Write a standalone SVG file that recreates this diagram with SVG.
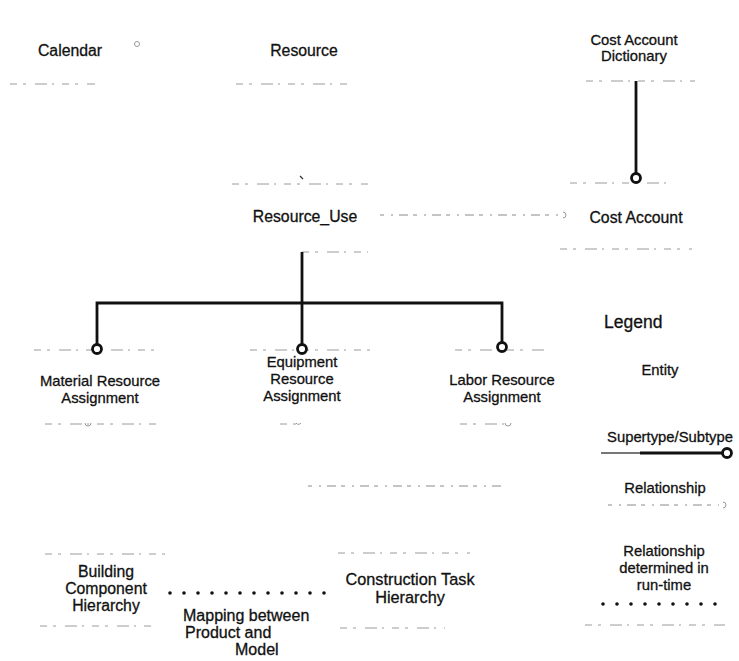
<svg xmlns="http://www.w3.org/2000/svg" width="739" height="661" viewBox="0 0 739 661">
  <style>
    .lbl { font-family: "Liberation Sans", Arial, Helvetica, sans-serif; font-size: 14.8px; fill: #111; stroke: #111; stroke-width: 0.3; text-anchor: middle; }
    .big { font-size: 15.8px; }
    .lbl-l { font-family: "Liberation Sans", Arial, Helvetica, sans-serif; font-size: 16px; fill: #111; stroke: #111; stroke-width: 0.3; }
    .title { font-family: "Liberation Sans", Arial, Helvetica, sans-serif; font-size: 17.5px; fill: #111; stroke: #111; stroke-width: 0.3; }
    .edge { stroke: #9a9a9a; stroke-width: 1; fill: none; stroke-dasharray: 7 6 3 9 12 5 2 8; }
    .rel { stroke: #8a8a8a; stroke-width: 1; fill: none; stroke-dasharray: 4 7 2 6 9 5; }
    .relEnd { stroke: #999; stroke-width: 1; fill: none; }
    .sub { stroke: #111; stroke-width: 2.8; fill: none; }
    .subEnd { stroke: #111; stroke-width: 2.8; fill: #fff; }
    .dots { stroke: #111; stroke-width: 3.6; fill: none; stroke-linecap: round; stroke-dasharray: 0 14; }
  </style>

  <rect width="739" height="661" fill="#fff"/>

  <!-- entities: faint box edges above and below each label -->
  <g id="calendar">
    <line class="edge" x1="10" y1="84" x2="95" y2="84"/>
    <text class="lbl big" x="70" y="56">Calendar</text>
  </g>

  <g id="resource">
    <line class="edge" x1="236" y1="84" x2="350" y2="84"/>
    <text class="lbl big" x="304" y="56">Resource</text>
  </g>

  <g id="cost-account-dictionary">
    <line class="edge" x1="586" y1="81" x2="695" y2="81"/>
    <text class="lbl" x="634" y="45">Cost Account</text>
    <text class="lbl" x="634" y="61">Dictionary</text>
  </g>

  <g id="resource-use">
    <line class="edge" x1="232" y1="184" x2="368" y2="184"/>
    <line class="edge" x1="302" y1="252" x2="368" y2="252"/>
    <text class="lbl big" x="305" y="222">Resource_Use</text>
  </g>

  <g id="cost-account">
    <line class="edge" x1="570" y1="183" x2="668" y2="183"/>
    <line class="edge" x1="560" y1="249" x2="692" y2="249"/>
    <text class="lbl big" x="636" y="223">Cost Account</text>
  </g>

  <g id="material-resource-assignment">
    <line class="edge" x1="34" y1="350" x2="162" y2="350"/>
    <line class="edge" x1="45" y1="424" x2="162" y2="424"/>
    <text class="lbl" x="100" y="386">Material Resource</text>
    <text class="lbl" x="100" y="403">Assignment</text>
  </g>

  <g id="equipment-resource-assignment">
    <line class="edge" x1="250" y1="350" x2="375" y2="350"/>
    <line class="edge" x1="280" y1="424" x2="298" y2="424"/>
    <text class="lbl" x="302" y="367">Equipment</text>
    <text class="lbl" x="302" y="384">Resource</text>
    <text class="lbl" x="302" y="401">Assignment</text>
  </g>

  <g id="labor-resource-assignment">
    <line class="edge" x1="455" y1="350" x2="545" y2="350"/>
    <line class="edge" x1="460" y1="424" x2="508" y2="424"/>
    <text class="lbl" x="502" y="385">Labor Resource</text>
    <text class="lbl" x="502" y="402">Assignment</text>
  </g>

  <g id="building-component-hierarchy">
    <line class="edge" x1="45" y1="554" x2="170" y2="554"/>
    <line class="edge" x1="40" y1="626" x2="155" y2="626"/>
    <text class="lbl big" x="106" y="577">Building</text>
    <text class="lbl big" x="106" y="594">Component</text>
    <text class="lbl big" x="106" y="611">Hierarchy</text>
  </g>

  <g id="construction-task-hierarchy">
    <line class="edge" x1="338" y1="553" x2="470" y2="553"/>
    <line class="edge" x1="340" y1="628" x2="445" y2="628"/>
    <text class="lbl" x="410" y="585" style="font-size:16.3px">Construction Task</text>
    <text class="lbl" x="410" y="603" style="font-size:16.3px">Hierarchy</text>
  </g>

  <g id="mapping-label">
    <text class="lbl-l" x="183" y="621">Mapping between</text>
    <text class="lbl-l" x="185" y="638">Product and</text>
    <text class="lbl-l" x="235" y="655">Model</text>
  </g>

  <!-- connectors -->
  <g id="connectors">
    <!-- Calendar to Resource relationship remnant -->
    <circle class="relEnd" cx="137" cy="44" r="2.5"/>
    <!-- Resource to Resource_Use relationship remnant -->
    <path d="M300 176 l3 3" stroke="#333" stroke-width="1.2"/>

    <!-- Cost Account Dictionary supertype of Cost Account -->
    <line class="sub" x1="636" y1="81" x2="636" y2="173"/>
    <circle class="subEnd" cx="636" cy="178" r="4.5"/>

    <!-- Resource_Use to Cost Account relationship -->
    <line class="rel" x1="380" y1="215" x2="563" y2="215"/>
    <path class="relEnd" d="M563 212 a3 3 0 0 1 0 6"/>

    <!-- Resource_Use supertype tree -->
    <polyline class="sub" points="302,252 302,303"/>
    <polyline class="sub" points="97,345 97,303 502,303 502,343"/>
    <line class="sub" x1="302" y1="303" x2="302" y2="344"/>
    <circle class="subEnd" cx="97" cy="349" r="4.5"/>
    <circle class="subEnd" cx="302" cy="349" r="4.5"/>
    <circle class="subEnd" cx="502" cy="347" r="4.5"/>

    <!-- relationship remnants below the assignments -->
    <path class="relEnd" d="M85 423 a3 3 0 0 0 6 0"/>
    <path class="relEnd" d="M296 423 a3 3 0 0 0 5 0"/>
    <path class="relEnd" d="M505 423 a3 3 0 0 0 6 0"/>
    <line class="rel" x1="308" y1="486" x2="505" y2="486"/>

    <!-- mapping between product and process model -->
    <line class="dots" x1="170" y1="593" x2="334" y2="593"/>
  </g>

  <!-- legend -->
  <g id="legend">
    <text class="title" x="604" y="328">Legend</text>
    <text class="lbl" x="660" y="375">Entity</text>
    <text class="lbl" x="670" y="442">Supertype/Subtype</text>
    <line x1="601" y1="453" x2="640" y2="453" stroke="#777" stroke-width="2.2"/>
    <line class="sub" x1="640" y1="453" x2="723" y2="453"/>
    <circle class="subEnd" cx="727" cy="453" r="4.5"/>
    <text class="lbl" x="665" y="493">Relationship</text>
    <line class="rel" x1="608" y1="505" x2="719" y2="505"/>
    <path class="relEnd" d="M723 502 a3 3 0 0 1 0 6"/>
    <text class="lbl" x="664" y="556">Relationship</text>
    <text class="lbl" x="664" y="573">determined in</text>
    <text class="lbl" x="664" y="590">run-time</text>
    <line class="dots" x1="603" y1="604" x2="722" y2="604"/>
    <line class="edge" x1="585" y1="625" x2="725" y2="625"/>
  </g>
</svg>
